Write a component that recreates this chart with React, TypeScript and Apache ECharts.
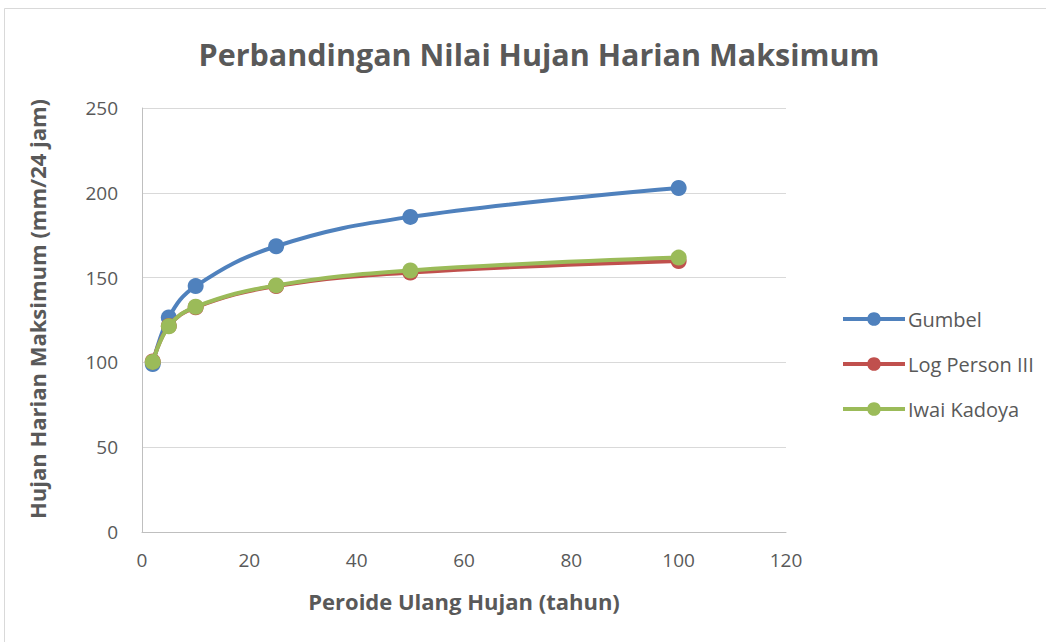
import React, { useEffect, useRef } from "react";
import * as echarts from "echarts";

const periods = [2, 5, 10, 25, 50, 100];
const gumbel = [99, 126.5, 145, 168.5, 185.8, 202.8];
const logPerson = [100.5, 121.5, 132.5, 145, 153, 159.8];
const iwaiKadoya = [100.3, 121.3, 132.8, 145.4, 154.2, 161.8];
const seriesNames = ["Gumbel", "Log Person III", "Iwai Kadoya"];
const colors = ["#4F81BD", "#C0504D", "#9BBB59"];
const yTitle = "Hujan Harian Maksimum (mm/24 jam)";

const FONT = "'Open Sans', 'Noto Sans', sans-serif";

export default function App() {
  const ref = useRef<HTMLDivElement>(null);
  useEffect(() => {
    if (!ref.current) return;
    const chart = echarts.init(ref.current, undefined, { renderer: "svg" });
    const datasets = [gumbel, logPerson, iwaiKadoya];
    chart.setOption({
      animation: false,
      backgroundColor: "#ffffff",
      textStyle: { fontFamily: FONT },
      title: {
        text: "Perbandingan Nilai Hujan Harian Maksimum",
        left: 534,
        top: 33,
        textAlign: "center",
        textStyle: { fontFamily: FONT, fontSize: 30.5, fontWeight: "bold", color: "#595959" },
      },
      graphic: [
        {
          type: "rect",
          shape: { x: 4.5, y: 8.5, width: 1060, height: 660 },
          style: { fill: "none", stroke: "#d9d9d9", lineWidth: 1 },
          silent: true,
        },
        {
          type: "text",
          x: 37,
          y: 309,
          rotation: Math.PI / 2,
          style: {
            text: yTitle,
            fontFamily: FONT,
            fontSize: 22,
            fontWeight: "bold",
            fill: "#595959",
            align: "center",
            verticalAlign: "middle",
          },
          silent: true,
        },
      ],
      legend: {
        orient: "vertical",
        left: 836,
        top: 304,
        itemGap: 25,
        itemWidth: 62,
        itemHeight: 17,
        lineStyle: { width: 4 },
        textStyle: { fontFamily: FONT, fontSize: 20, color: "#595959", padding: [0, 0, 0, -2] },
        data: seriesNames,
      },
      grid: { left: 142, right: 260, top: 108, bottom: 110 },
      xAxis: {
        type: "value",
        min: 0,
        max: 120,
        interval: 20,
        name: "Peroide Ulang Hujan (tahun)",
        nameLocation: "middle",
        nameGap: 58,
        nameTextStyle: { fontFamily: FONT, fontSize: 22, fontWeight: "bold", color: "#595959" },
        axisLine: { show: true, lineStyle: { color: "#bfbfbf", width: 1 } },
        axisTick: { show: false },
        splitLine: { show: false },
        axisLabel: { fontFamily: FONT, fontSize: 19, color: "#595959", margin: 18 },
      },
      yAxis: {
        type: "value",
        min: 0,
        max: 250,
        interval: 50,
        axisLine: { show: true, lineStyle: { color: "#bfbfbf", width: 1 } },
        axisTick: { show: false },
        splitLine: { show: true, lineStyle: { color: "#d9d9d9", width: 1 } },
        axisLabel: { fontFamily: FONT, fontSize: 19, color: "#595959", margin: 24 },
      },
      series: seriesNames.map((name, i) => ({
        name,
        type: "line",
        smooth: 0.4,
        symbol: "circle",
        symbolSize: 16,
        data: periods.map((p, j) => [p, datasets[i][j]]),
        lineStyle: { color: colors[i], width: 4 },
        itemStyle: { color: colors[i] },
        z: 2 + i,
      })),
    });
    return () => chart.dispose();
  }, []);
  return (
    <div
      ref={ref}
      style={{ position: "fixed", left: 0, top: 0, width: 1046, height: 642 }}
    />
  );
}
